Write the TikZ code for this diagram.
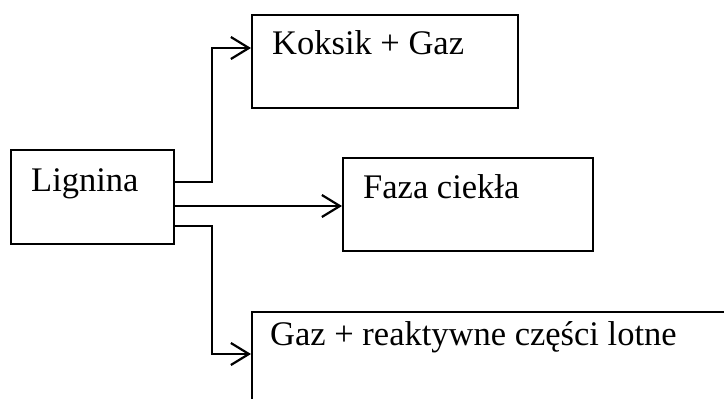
\documentclass[tikz,border=0pt]{standalone}
\usepackage{fontspec}
\setmainfont{Liberation Serif}
\usetikzlibrary{arrows.meta}
\begin{document}
\begin{tikzpicture}[x=1pt,y=-1pt,
  box/.style={draw=black,line width=2.2pt,rectangle,inner sep=0pt,anchor=north west},
  lbl/.style={anchor=base west,inner sep=0pt,font=\fontsize{34.5}{40}\selectfont},
  link/.style={line width=2.2pt,-{Straight Barb[length=18pt,width=22pt,line width=2.2pt]}}]
\useasboundingbox (0,0) rectangle (724,399);
\fill[white] (0,0) rectangle (724,399);
\clip (0,0) rectangle (724,399);

% boxes
\node[box,minimum width=163pt,minimum height=94pt] (lig) at (10,149) {};
\node[box,minimum width=266pt,minimum height=93pt] (kok) at (251,14) {};
\node[box,minimum width=250pt,minimum height=93pt] (faz) at (342,157) {};
\node[box,minimum width=520pt,minimum height=120pt] (gaz) at (251,311) {};

% texts
\node[lbl] (tlig) at (31,191) {Lignina};
\node[lbl] (tkok) at (272,54) {Koksik + Gaz};
\node[lbl] (tfaz) at (363,198) {Faza ciekła};
\node[lbl] (tgaz) at (270,345) {Gaz + reaktywne części lotne};

% connectors
\coordinate (ktop) at (212,48);
\coordinate (kbot) at (212,354);
\draw[link] (lig.east |- 0,182) -| (ktop) -- (kok.west |- ktop);
\draw[link] (lig.east |- 0,206) -- (faz.west |- 0,206);
\draw[link] (lig.east |- 0,226) -| (kbot) -- (gaz.west |- kbot);
\end{tikzpicture}
\end{document}
